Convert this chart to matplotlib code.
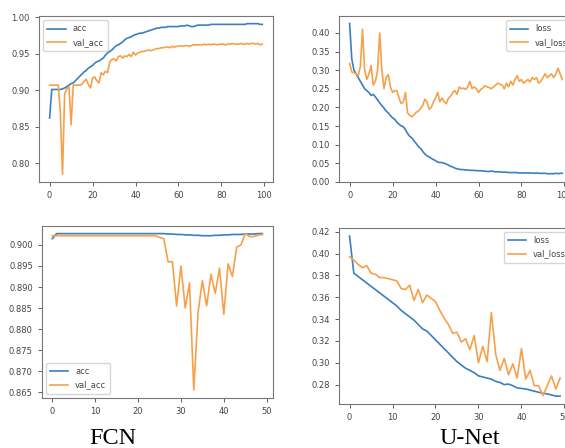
import matplotlib.pyplot as plt

# FCN, top: 100 epochs
fcn_acc = [0.862, 0.901, 0.901, 0.901, 0.901, 0.901, 0.902, 0.903, 0.905, 0.907,
           0.909, 0.910, 0.913, 0.916, 0.919, 0.922, 0.925, 0.927, 0.930, 0.932,
           0.934, 0.937, 0.939, 0.940, 0.942, 0.944, 0.948, 0.951, 0.953, 0.955,
           0.958, 0.961, 0.962, 0.964, 0.966, 0.969, 0.971, 0.972, 0.973, 0.975,
           0.976, 0.977, 0.978, 0.978, 0.979, 0.980, 0.981, 0.982, 0.983, 0.984,
           0.985, 0.985, 0.986, 0.986, 0.986, 0.987, 0.987, 0.987, 0.987, 0.987,
           0.987, 0.988, 0.988, 0.988, 0.989, 0.988, 0.987, 0.987, 0.988, 0.989,
           0.989, 0.989, 0.989, 0.989, 0.989, 0.990, 0.990, 0.990, 0.990, 0.990,
           0.990, 0.990, 0.990, 0.990, 0.990, 0.990, 0.990, 0.990, 0.990, 0.990,
           0.990, 0.990, 0.991, 0.991, 0.991, 0.991, 0.991, 0.991, 0.990, 0.990]
fcn_val_acc = [0.907, 0.907, 0.907, 0.907, 0.907, 0.870, 0.785, 0.895, 0.902, 0.905,
               0.853, 0.907, 0.907, 0.907, 0.907, 0.908, 0.912, 0.915, 0.908, 0.903,
               0.917, 0.918, 0.913, 0.910, 0.924, 0.921, 0.926, 0.924, 0.939, 0.942,
               0.943, 0.940, 0.946, 0.947, 0.944, 0.947, 0.946, 0.949, 0.946, 0.952,
               0.948, 0.951, 0.952, 0.953, 0.953, 0.954, 0.955, 0.954, 0.955, 0.956,
               0.957, 0.957, 0.958, 0.958, 0.959, 0.959, 0.958, 0.960, 0.959, 0.960,
               0.960, 0.961, 0.960, 0.961, 0.961, 0.960, 0.961, 0.962, 0.962, 0.962,
               0.962, 0.962, 0.963, 0.962, 0.963, 0.962, 0.963, 0.963, 0.962, 0.963,
               0.963, 0.963, 0.962, 0.963, 0.963, 0.964, 0.963, 0.963, 0.963, 0.964,
               0.963, 0.963, 0.964, 0.963, 0.964, 0.964, 0.963, 0.964, 0.962, 0.963]

# U-Net, top: 100 epochs
unet_loss = [0.425, 0.330, 0.300, 0.290, 0.280, 0.270, 0.260, 0.250, 0.245, 0.240,
             0.232, 0.235, 0.228, 0.220, 0.212, 0.205, 0.198, 0.190, 0.185, 0.178,
             0.172, 0.168, 0.160, 0.155, 0.150, 0.148, 0.140, 0.130, 0.122, 0.118,
             0.110, 0.103, 0.095, 0.090, 0.082, 0.075, 0.070, 0.067, 0.063, 0.060,
             0.057, 0.053, 0.052, 0.052, 0.050, 0.048, 0.045, 0.042, 0.040, 0.037,
             0.035, 0.034, 0.033, 0.033, 0.032, 0.032, 0.031, 0.031, 0.031, 0.030,
             0.030, 0.030, 0.029, 0.029, 0.028, 0.028, 0.029, 0.028, 0.027, 0.027,
             0.027, 0.026, 0.026, 0.026, 0.025, 0.025, 0.025, 0.025, 0.025, 0.024,
             0.024, 0.024, 0.024, 0.024, 0.024, 0.024, 0.023, 0.024, 0.023, 0.023,
             0.023, 0.023, 0.022, 0.022, 0.022, 0.022, 0.023, 0.022, 0.023, 0.023]
unet_val_loss = [0.318, 0.295, 0.293, 0.290, 0.285, 0.310, 0.410, 0.300, 0.275, 0.290,
                 0.312, 0.260, 0.270, 0.300, 0.400, 0.300, 0.250, 0.280, 0.288, 0.255,
                 0.240, 0.245, 0.245, 0.225, 0.210, 0.215, 0.240, 0.185, 0.178, 0.175,
                 0.180, 0.187, 0.190, 0.197, 0.205, 0.222, 0.215, 0.195, 0.200, 0.215,
                 0.225, 0.240, 0.215, 0.225, 0.215, 0.210, 0.225, 0.230, 0.240, 0.245,
                 0.235, 0.255, 0.250, 0.252, 0.248, 0.255, 0.270, 0.250, 0.255, 0.250,
                 0.240, 0.248, 0.252, 0.258, 0.255, 0.253, 0.250, 0.255, 0.260, 0.265,
                 0.262, 0.260, 0.250, 0.265, 0.255, 0.270, 0.260, 0.275, 0.285, 0.270,
                 0.275, 0.265, 0.270, 0.275, 0.268, 0.280, 0.275, 0.280, 0.265, 0.270,
                 0.280, 0.290, 0.280, 0.285, 0.290, 0.280, 0.290, 0.305, 0.290, 0.275]

# FCN, bottom: 50 epochs
fcn2_acc = [0.9015, 0.9027, 0.9027, 0.9027, 0.9027, 0.9027, 0.9027, 0.9027, 0.9027, 0.9027,
            0.9027, 0.9027, 0.9027, 0.9027, 0.9027, 0.9027, 0.9027, 0.9027, 0.9027, 0.9027,
            0.9027, 0.9027, 0.9027, 0.9027, 0.9027, 0.9027, 0.9027, 0.9026, 0.9026, 0.9025,
            0.9025, 0.9024, 0.9024, 0.9023, 0.9023, 0.9022, 0.9022, 0.9022, 0.9023, 0.9023,
            0.9024, 0.9024, 0.9025, 0.9025, 0.9025, 0.9026, 0.9026, 0.9026, 0.9027, 0.9027]
fcn2_val_acc = [0.9022, 0.9022, 0.9022, 0.9022, 0.9022, 0.9022, 0.9022, 0.9022, 0.9022, 0.9022,
                0.9022, 0.9022, 0.9022, 0.9022, 0.9022, 0.9022, 0.9022, 0.9022, 0.9022, 0.9022,
                0.9022, 0.9022, 0.9022, 0.9022, 0.9022, 0.9018, 0.9015, 0.8960, 0.8960, 0.8855,
                0.8950, 0.8850, 0.8910, 0.8655, 0.8840, 0.8915, 0.8855, 0.8930, 0.8885, 0.8945,
                0.8835, 0.8955, 0.8925, 0.8995, 0.9000, 0.9027, 0.9020, 0.9020, 0.9023, 0.9025]

# U-Net, bottom: 50 epochs
unet2_loss = [0.416, 0.382, 0.379, 0.376, 0.373, 0.370, 0.367, 0.364, 0.361, 0.358,
              0.355, 0.352, 0.348, 0.345, 0.342, 0.339, 0.335, 0.331, 0.329, 0.325,
              0.321, 0.317, 0.313, 0.309, 0.305, 0.301, 0.298, 0.295, 0.293, 0.291,
              0.288, 0.287, 0.286, 0.285, 0.283, 0.282, 0.280, 0.2805, 0.279, 0.277,
              0.2765, 0.276, 0.275, 0.274, 0.273, 0.272, 0.2715, 0.2705, 0.2695, 0.2695]
unet2_val_loss = [0.397, 0.394, 0.390, 0.387, 0.389, 0.382, 0.381, 0.378, 0.378, 0.377,
                  0.376, 0.375, 0.368, 0.367, 0.371, 0.357, 0.367, 0.355, 0.362, 0.359,
                  0.356, 0.348, 0.341, 0.335, 0.327, 0.328, 0.319, 0.322, 0.312, 0.325,
                  0.300, 0.315, 0.301, 0.346, 0.308, 0.293, 0.304, 0.289, 0.299, 0.286,
                  0.313, 0.285, 0.293, 0.279, 0.279, 0.270, 0.279, 0.288, 0.276, 0.286]

captions = ['FCN', 'U-Net']

blue = '#3a7fbf'
orange = '#f7a04a'

fig = plt.figure(figsize=(5.65, 4.48), dpi=100)

panels = [
    ([0.069, 0.594, 0.414, 0.370], fcn_acc, fcn_val_acc, ['acc', 'val_acc'], 'upper left', None),
    ([0.600, 0.594, 0.414, 0.370], unet_loss, unet_val_loss, ['loss', 'val_loss'], 'upper right', (1.015, 1.0)),
    ([0.074, 0.112, 0.409, 0.384], fcn2_acc, fcn2_val_acc, ['acc', 'val_acc'], 'lower left', None),
    ([0.600, 0.098, 0.410, 0.393], unet2_loss, unet2_val_loss, ['loss', 'val_loss'], 'upper right', (1.015, 1.0)),
]

for rect, s1, s2, labels, loc, anchor in panels:
    ax = fig.add_axes(rect)
    ax.plot(range(len(s1)), s1, color=blue, lw=1.2, label=labels[0])
    ax.plot(range(len(s2)), s2, color=orange, lw=1.2, label=labels[1])
    ax.tick_params(labelsize=6, colors='#444444', length=3, width=0.6)
    for sp in ax.spines.values():
        sp.set_color('#777777')
        sp.set_linewidth(0.8)
    if anchor:
        leg = ax.legend(loc=loc, bbox_to_anchor=anchor, fontsize=6, handlelength=2.2, borderpad=0.5)
    else:
        leg = ax.legend(loc=loc, fontsize=6, handlelength=2.2, borderpad=0.5)
    for t in leg.get_texts():
        t.set_color('#444444')

# y tick formats as in the picture
fig.axes[0].set_yticks([0.80, 0.85, 0.90, 0.95, 1.00])
fig.axes[0].set_yticklabels(['0.80', '0.85', '0.90', '0.95', '1.00'])
fig.axes[1].set_ylim(0, 0.445)
fig.axes[2].set_yticks([0.865, 0.870, 0.875, 0.880, 0.885, 0.890, 0.895, 0.900])
fig.axes[3].set_yticks([0.28, 0.30, 0.32, 0.34, 0.36, 0.38, 0.40, 0.42])
fig.axes[3].set_yticklabels(['0.28', '0.30', '0.32', '0.34', '0.36', '0.38', '0.40', '0.42'])

fig.text(0.199, 0.022, captions[0], fontsize=17.5, family='Liberation Serif', ha='center', va='center')
fig.text(0.832, 0.022, captions[1], fontsize=17.5, family='Liberation Serif', ha='center', va='center')

fig.savefig('out.png', dpi=100)
